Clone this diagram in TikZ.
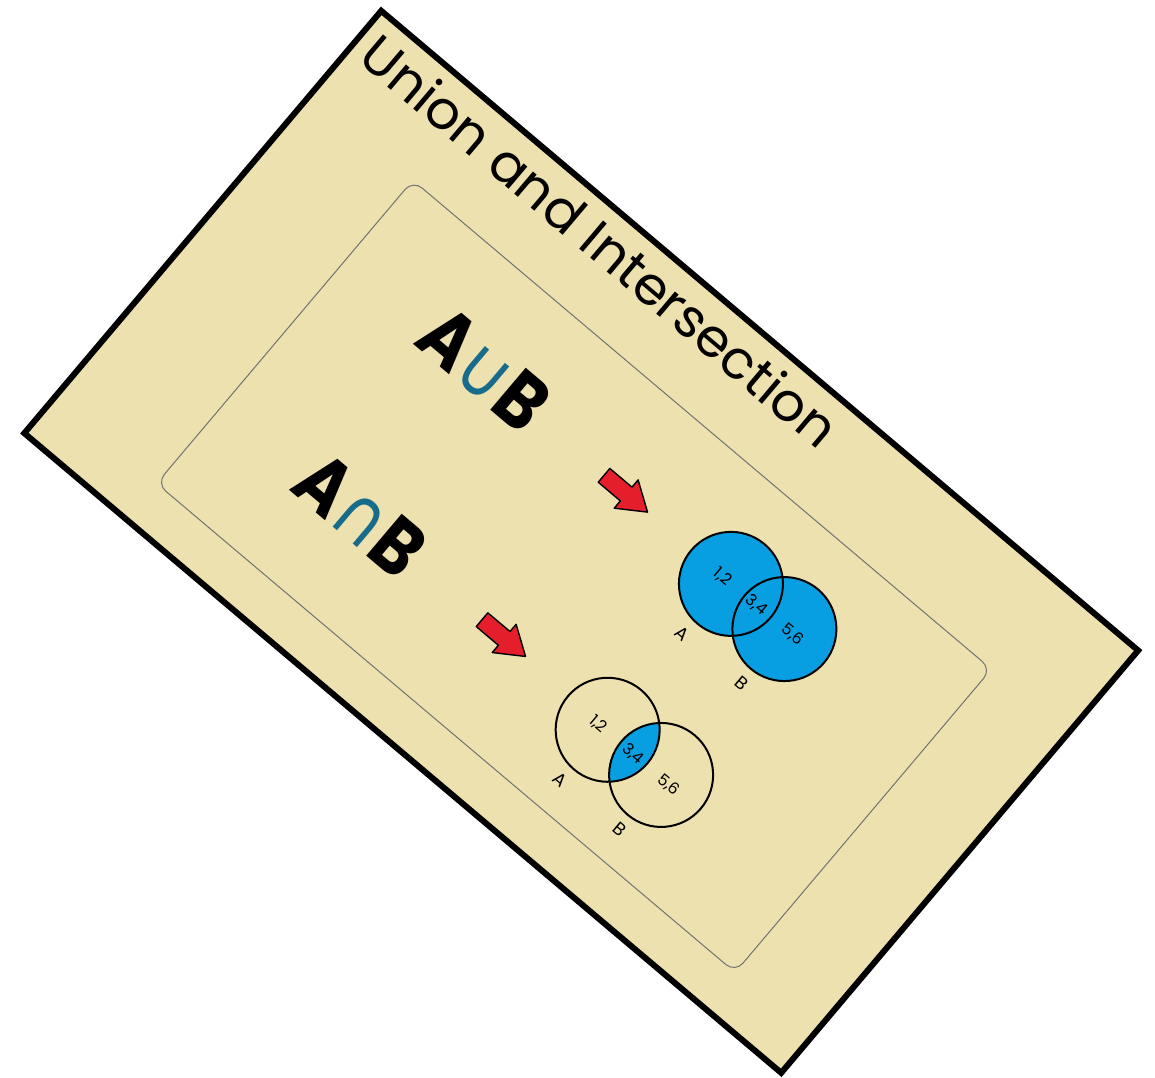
\documentclass[tikz,border=0pt]{standalone}
\usepackage{fontspec}
\usepackage{graphicx}
\setmainfont{Poppins}
\newfontfamily\symfont{DejaVu Sans}
\definecolor{bgtan}{RGB}{236,225,175}
\definecolor{vennblue}{RGB}{8,158,226}
\definecolor{arrowred}{RGB}{228,30,42}
\definecolor{symteal}{RGB}{22,108,138}
\definecolor{framegray}{RGB}{115,115,115}
\newlength\fitw
\newlength\fith
\AtBeginDocument{%
  \settowidth\fitw{\fontsize{50}{60}\selectfont Union and Intersection}%
  \settoheight\fith{\fontsize{50}{60}\selectfont I}%
  \pgfmathsetmacro\tsx{605/\fitw}%
  \pgfmathsetmacro\tsy{37/\fith}%
  \settowidth\fitw{\fontsize{60}{70}\selectfont\bfseries A{\symfont\mdseries\char"222A}B}%
  \settoheight\fith{\fontsize{60}{70}\selectfont\bfseries A}%
  \pgfmathsetmacro\bsx{143/\fitw}%
  \pgfmathsetmacro\bsy{55/\fith}%
}
\tikzset{
  outerframe/.style={draw=black,line width=6pt,fill=bgtan},
  innerframe/.style={draw=framegray,line width=1pt,rounded corners=12pt},
  vennline/.style={draw=black,line width=2pt},
  redarrow/.style={fill=arrowred,draw=black,line width=1.4pt,line join=round},
  smalltxt/.style={inner sep=0pt,font=\fontsize{16}{18}\selectfont},
  labtxt/.style={inner sep=0pt,font=\fontsize{18}{20}\selectfont},
}
\begin{document}
\begin{tikzpicture}[x=1pt,y=-1pt]
\useasboundingbox (0,0) rectangle (1155,1077);
\begin{scope}[shift={(381,8)},rotate=-40.2,transform shape]
  \path[outerframe] (2,2) rectangle (993,555);
  \path[innerframe] (135.5,111) rectangle (893,508);
  \node[anchor=base west,inner sep=0pt] (title) at (15,56)
    {\scalebox{\tsx}[\tsy]{\fontsize{50}{60}\selectfont Union and Intersection}};
  \node[anchor=base west,inner sep=0pt] (union) at (240,236)
    {\scalebox{\bsx}[\bsy]{\fontsize{60}{70}\selectfont\bfseries A{\symfont\mdseries\color{symteal}\char"222A}B}};
  \node[anchor=base west,inner sep=0pt] (inter) at (240,428)
    {\scalebox{\bsx}[\bsy]{\fontsize{60}{70}\selectfont\bfseries A{\symfont\mdseries\color{symteal}\char"2229}B}};
  % arrows
  \path[redarrow] (472,204) -- (501,204) -- (501,194.5) -- (529,213) -- (501,231.5) -- (501,222) -- (472,222) -- cycle;
  \path[redarrow] (472,393) -- (501,393) -- (501,383.5) -- (529,402) -- (501,420.5) -- (501,411) -- (472,411) -- cycle;
  % union venn
  \fill[vennblue] (639,214) circle (52pt) (709,214) circle (52pt);
  \path[vennline] (639,214) circle (52pt) (709,214) circle (52pt);
  \node[smalltxt] (u12) at (628,214) {1,2};
  \node[smalltxt] (u34) at (672,214) {3,4};
  \node[smalltxt] (u56) at (719,213) {5,6};
  \node[labtxt] (uA) at (634,283) {A};
  \node[labtxt] (uB) at (711,283) {B};
  % intersection venn
  \begin{scope}
    \clip (639,405) circle (52pt);
    \fill[vennblue] (709,405) circle (52pt);
  \end{scope}
  \path[vennline] (639,405) circle (52pt) (709,405) circle (52pt);
  \node[smalltxt] (i12) at (628,407) {1,2};
  \node[smalltxt] (i34) at (674,407) {3,4};
  \node[smalltxt] (i56) at (721,408) {5,6};
  \node[labtxt] (iA) at (635,474) {A};
  \node[labtxt] (iB) at (712,473) {B};
\end{scope}
\end{tikzpicture}
\end{document}
